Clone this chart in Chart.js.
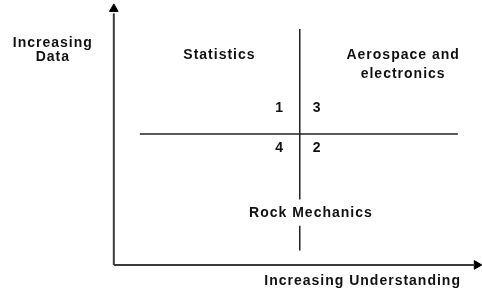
<!DOCTYPE html>
<html>
<head>
<meta charset="utf-8">
<script src="https://cdn.jsdelivr.net/npm/chart.js@4/dist/chart.umd.min.js"></script>
<style>
html,body{margin:0;padding:0;background:#fff;}
#wrap{width:482px;height:299px;}
</style>
</head>
<body>
<div id="wrap"><canvas id="c" width="482" height="299"></canvas></div>
<script>
// Axes (data space: x = understanding, y = data)
const xAxisLine = [{x:0,y:0},{x:97,y:0}];
const yAxisLine = [{x:0,y:0},{x:0,y:96}];
const xArrow = [{x:97.6,y:0}];
const yArrow = [{x:0,y:97.7}];
// Quadrant dividers
const vDividerTop = [{x:50,y:90},{x:50,y:25}];
const vDividerBottom = [{x:50,y:15},{x:50,y:5.5}];
const hDivider = [{x:7,y:50},{x:92.5,y:50}];
// Text labels and their anchor positions in data space
const labelTexts = ["Increasing","Data","Statistics","Aerospace and","electronics","1","3","4","2","Rock Mechanics","Increasing Understanding"];
const labelX = [-16.4,-16.4,28.4,77.8,77.8,44.6,54.7,44.6,54.7,53,66.9];
const labelY = [84.7,79.4,80.2,80.2,72.9,59.9,59.9,44.7,44.7,19.8,-6.1];

const textPlugin = {
  id:'textLabels',
  afterDatasetsDraw(chart){
    const {ctx, scales:{x,y}} = chart;
    ctx.save();
    ctx.font = 'bold 14px "Liberation Sans", Arial, sans-serif';
    try{ ctx.letterSpacing = '1px'; }catch(e){}
    ctx.fillStyle = '#111';
    ctx.textAlign = 'center';
    ctx.textBaseline = 'middle';
    labelTexts.forEach((t,i)=>{
      ctx.fillText(t, x.getPixelForValue(labelX[i]), y.getPixelForValue(labelY[i]));
    });
    ctx.restore();
  }
};

const lineDs = (data, color, width) => ({type:'line', data, borderColor:color, borderWidth:width, pointRadius:0, showLine:true, fill:false, tension:0});

new Chart(document.getElementById('c'), {
  type:'scatter',
  data:{datasets:[
    lineDs(xAxisLine,'#3a3a3a',2),
    lineDs(yAxisLine,'#3a3a3a',2),
    lineDs(vDividerTop,'#222',1.5),
    lineDs(vDividerBottom,'#222',1.5),
    lineDs(hDivider,'#222',1.5),
    {data:xArrow, pointStyle:'triangle', rotation:90, pointRadius:5, backgroundColor:'#000', borderColor:'#000', borderWidth:1},
    {data:yArrow, pointStyle:'triangle', rotation:0, pointRadius:5, backgroundColor:'#000', borderColor:'#000', borderWidth:1}
  ]},
  options:{
    responsive:false,
    animation:false,
    layout:{padding:0, autoPadding:false},
    plugins:{legend:{display:false}, tooltip:{enabled:false}},
    scales:{
      x:{type:'linear', min:-30.6, max:99, display:false},
      y:{type:'linear', min:-13, max:101.1, display:false}
    }
  },
  plugins:[textPlugin]
});
</script>
</body>
</html>
